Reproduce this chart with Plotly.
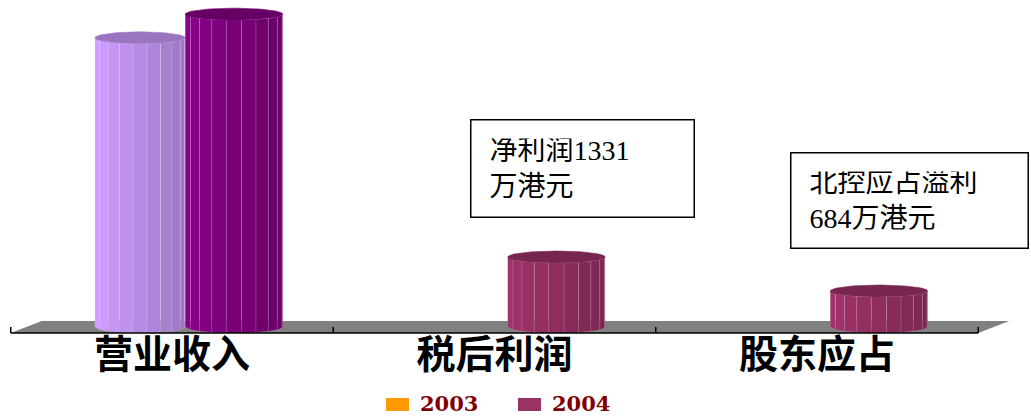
import numpy as np
import plotly.graph_objects as go

# ---------------- data ----------------
categories = ["营业收入", "税后利润", "股东应占"]
years = ["2003", "2004"]
values_2003 = [5500, None, None]          # 万港元
values_2004 = [5950, 1331, 684]           # 万港元
bar_colors_2003 = ["#B68BE3", None, None]
bar_colors_2004 = ["#7A0078", "#8E2D5E", "#8E2D5E"]
legend_colors = ["#FF9900", "#993366"]
note_texts = ["净利润1331<br>万港元", "北控应占溢利<br>684万港元"]

# ---------------- geometry / styles ----------------
W, H = 1031, 416
MB = 80                      # bottom margin
PH = H - MB                  # plot height in px
X_UNIT = 322.5               # px per category
X_ZERO_PX = 172              # px of first category centre
x_range = [(0 - X_ZERO_PX) / X_UNIT, (W - X_ZERO_PX) / X_UNIT]
BASE_PX = 327                # px of value 0 (bar base)
Y_SCALE = 19.02              # value units per px
y_range = [-(PH - BASE_PX) * Y_SCALE, BASE_PX * Y_SCALE]

def vy(px):  # pixel row -> value
    return (BASE_PX - px) * Y_SCALE

def paper_x(px):
    return px / W

def paper_y(px):
    return (PH - px) / PH

offsets = [-0.099, 0.192]
half_w = [0.14, 0.151]
ELL = 6 * Y_SCALE            # half height of the ellipses
facet_deg = [-90, -63, -45, -27, -9, 9, 27, 45, 63, 81, 90]

def shade(hex_color, f):
    h = hex_color.lstrip("#")
    r, g, b = (int(h[i:i + 2], 16) for i in (0, 2, 4))
    r, g, b = (max(0, min(255, int(round(c * f)))) for c in (r, g, b))
    return f"rgb({r},{g},{b})"

fig = go.Figure()

def add_cylinder(cx, r, v, base_color):
    th = np.radians(facet_deg)
    for a, b in zip(th[:-1], th[1:]):
        mid = (a + b) / 2
        f = 1 - 0.14 * np.sin(mid)
        xa, xb = cx + r * np.sin(a), cx + r * np.sin(b)
        ya0, yb0 = -ELL * np.cos(a), -ELL * np.cos(b)
        xs = [xa, xb, xb, xa, xa]
        ys = [ya0, yb0, v + yb0, v + ya0, ya0]
        fig.add_trace(go.Scatter(
            x=xs, y=ys, mode="lines", fill="toself",
            fillcolor=shade(base_color, f),
            line=dict(color="rgba(255,255,255,0.2)", width=0.6),
            hoverinfo="skip", showlegend=False))
    t = np.linspace(0, 2 * np.pi, 80)
    fig.add_trace(go.Scatter(
        x=cx + r * np.cos(t), y=v + ELL * np.sin(t), mode="lines", fill="toself",
        fillcolor=shade(base_color, 0.84),
        line=dict(color=shade(base_color, 0.9), width=0.6),
        hoverinfo="skip", showlegend=False))

for s, (vals, cols) in enumerate([(values_2003, bar_colors_2003), (values_2004, bar_colors_2004)]):
    for i, v in enumerate(vals):
        if v is None:
            continue
        add_cylinder(i + offsets[s], half_w[s], v, cols[i])

# ---------------- floor ----------------
n = len(categories)
front_y = vy(333)
back_y = vy(321)
depth_dx = 31 / X_UNIT
shapes = [dict(type="path", xref="x", yref="y", layer="below",
               path=(f"M {-0.5},{front_y} L {n - 0.5},{front_y} "
                     f"L {n - 0.5 + depth_dx},{back_y} L {-0.5 + depth_dx},{back_y} Z"),
               fillcolor="#808080", line=dict(width=0))]
shapes.append(dict(type="line", xref="x", yref="y", x0=-0.5, x1=n - 0.5,
                   y0=front_y, y1=front_y, line=dict(color="#000000", width=1.5)))
for k in range(n + 1):
    shapes.append(dict(type="line", xref="x", yref="y", x0=k - 0.5, x1=k - 0.5,
                       y0=front_y, y1=vy(327), line=dict(color="#000000", width=1.5)))

# ---------------- legend (drawn) ----------------
legend_sq = [(386, 409), (518, 541)]
legend_tx = [419, 551]
annotations = []
for k, yr in enumerate(years):
    x0, x1 = legend_sq[k]
    shapes.append(dict(type="rect", xref="paper", yref="paper",
                       x0=paper_x(x0), x1=paper_x(x1), y0=paper_y(411), y1=paper_y(398),
                       fillcolor=legend_colors[k], line=dict(width=0)))
    annotations.append(dict(xref="paper", yref="paper", x=paper_x(legend_tx[k]), y=paper_y(403),
                            xanchor="left", yanchor="middle", showarrow=False, text=yr,
                            borderpad=0,
                            font=dict(family="DejaVu Serif", size=21, color="#800000",
                                      weight="bold")))

# ---------------- note boxes ----------------
boxes = [(470, 695, 119, 218), (790, 1029, 152, 249)]
for k, (bx0, bx1, by0, by1) in enumerate(boxes):
    pad, bw = 18, 1.5
    annotations.append(dict(
        xref="paper", yref="paper", x=paper_x((bx0 + bx1) / 2), y=paper_y((by0 + by1) / 2),
        xanchor="center", yanchor="middle", showarrow=False, text=note_texts[k],
        align="left", valign="middle",
        width=bx1 - bx0 - 2 * pad - 2 * bw, height=by1 - by0 - 2 * pad - 2 * bw,
        borderpad=pad, borderwidth=bw, bordercolor="#000000", bgcolor="#FFFFFF",
        font=dict(family="Liberation Serif, Noto Sans CJK SC", size=28, color="#000000")))

fig.update_layout(
    width=W, height=H,
    margin=dict(l=0, r=0, t=0, b=MB),
    paper_bgcolor="#FFFFFF", plot_bgcolor="#FFFFFF",
    showlegend=False,
    xaxis=dict(range=x_range, tickmode="array", tickvals=list(range(n)), ticktext=categories,
               ticks="", showgrid=False, zeroline=False, showline=False,
               ticklabelstandoff=-8,
               tickfont=dict(family="Noto Sans CJK SC", size=39, color="#000000", weight="bold"),
               fixedrange=True),
    yaxis=dict(range=y_range, visible=False, fixedrange=True),
    shapes=shapes, annotations=annotations,
)

fig.write_html("out.html", config={"displayModeBar": False},
               post_script="document.body.style.margin='0';document.body.style.overflow='hidden';")
